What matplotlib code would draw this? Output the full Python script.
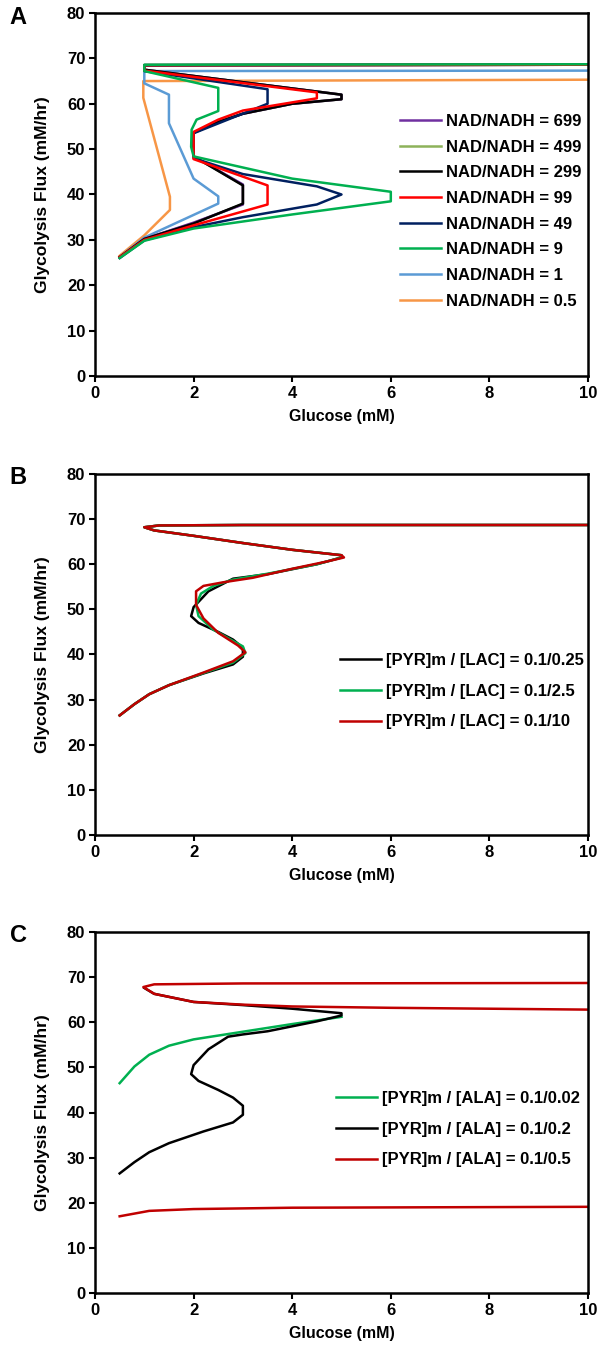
import matplotlib
matplotlib.use("Agg")
import matplotlib.pyplot as plt

plt.rcParams["font.family"] = ["Liberation Sans", "DejaVu Sans"]
plt.rcParams["font.weight"] = "bold"

# ---- Panel A: NAD/NADH ratios (glucose mM, flux mM/hr) ----
a_labels = ["NAD/NADH = 699", "NAD/NADH = 499", "NAD/NADH = 299", "NAD/NADH = 99",
            "NAD/NADH = 49", "NAD/NADH = 9", "NAD/NADH = 1", "NAD/NADH = 0.5"]
a_colors = ["#7030A0", "#8DB25A", "#000000", "#FF0000",
            "#002060", "#00B050", "#5B9BD5", "#F79646"]

a_699_x = [0.5, 1.0, 2.0, 3.0, 3.0, 2.0, 2.0, 2.5, 3.0, 4.0, 5.0, 5.0, 1.0, 1.0, 10.0]
a_699_y = [26.2, 30.2, 33.8, 37.8, 42.2, 48.4, 53.6, 56.0, 57.8, 60.0, 61.0, 62.0, 67.5, 68.5, 68.6]
a_499_x = [0.5, 1.0, 2.0, 3.0, 3.0, 2.0, 2.0, 2.5, 3.0, 4.0, 5.0, 5.0, 1.0, 1.0, 10.0]
a_499_y = [26.2, 30.2, 33.7, 37.9, 42.1, 48.4, 53.6, 56.0, 57.8, 60.0, 61.0, 62.0, 67.5, 68.5, 68.6]
a_299_x = [0.5, 1.0, 2.0, 3.0, 3.0, 2.0, 2.0, 2.5, 3.0, 4.0, 5.0, 5.0, 1.0, 1.0, 10.0]
a_299_y = [26.2, 30.2, 33.6, 38.0, 42.0, 48.4, 53.6, 56.0, 57.8, 60.0, 61.0, 62.0, 67.5, 68.5, 68.6]
a_99_x = [0.5, 1.0, 2.0, 3.5, 3.5, 2.0, 2.0, 2.5, 3.0, 4.5, 4.5, 1.0, 1.0, 10.0]
a_99_y = [26.2, 30.0, 33.2, 37.8, 42.0, 47.8, 53.8, 56.5, 58.5, 61.2, 62.5, 67.3, 68.5, 68.6]
a_49_x = [0.5, 1.0, 2.0, 3.0, 4.5, 5.0, 4.5, 3.0, 2.0, 2.0, 3.5, 3.5, 1.0, 1.0, 10.0]
a_49_y = [26.0, 29.9, 32.8, 35.0, 37.8, 40.0, 41.8, 44.5, 48.0, 53.5, 60.0, 63.2, 67.2, 68.5, 68.6]
a_9_x = [0.5, 1.0, 2.0, 4.0, 6.0, 6.0, 4.0, 2.0, 1.95, 1.96, 2.06, 2.5, 2.5, 1.0, 1.0, 10.0]
a_9_y = [26.0, 29.8, 32.5, 35.6, 38.5, 40.6, 43.5, 48.4, 50.5, 54.3, 56.5, 58.4, 63.5, 67.2, 68.6, 68.7]
a_1_x = [0.5, 1.0, 2.5, 2.5, 2.0, 1.5, 1.5, 1.0, 1.0, 10.0]
a_1_y = [26.2, 30.5, 38.0, 39.6, 43.5, 55.7, 62.0, 64.5, 67.2, 67.3]
a_05_x = [0.5, 1.0, 1.52, 1.52, 0.98, 0.98, 10.0]
a_05_y = [26.5, 31.0, 36.6, 39.5, 61.3, 65.0, 65.3]

# ---- Panel B: [PYR]m / [LAC] ----
b_labels = ["[PYR]m / [LAC] = 0.1/0.25", "[PYR]m / [LAC] = 0.1/2.5", "[PYR]m / [LAC] = 0.1/10"]
b_colors = ["#000000", "#00B050", "#C00000"]

b_025_x = [0.5, 0.8, 1.1, 1.5, 2.2, 2.8, 3.0, 3.0, 2.8, 2.5, 2.1, 1.95, 2.0, 2.3, 2.8,
           3.5, 4.5, 5.0, 5.0, 4.0, 3.0, 2.0, 1.2, 1.0, 1.3, 3.0, 10.0]
b_025_y = [26.5, 29.0, 31.2, 33.2, 35.8, 37.8, 39.5, 41.5, 43.3, 45.0, 47.0, 48.5, 50.5, 54.0, 56.8,
           57.8, 60.0, 61.5, 62.0, 63.2, 64.7, 66.3, 67.5, 68.2, 68.6, 68.7, 68.7]
b_25_x = [0.5, 0.8, 1.1, 1.5, 2.2, 2.8, 3.05, 3.0, 2.8, 2.4, 2.1, 2.05, 2.15, 2.4, 2.8,
          3.5, 4.5, 5.0, 5.0, 4.0, 3.0, 2.0, 1.2, 1.0, 1.3, 3.0, 10.0]
b_25_y = [26.5, 29.0, 31.2, 33.2, 35.9, 38.2, 40.3, 41.8, 43.0, 45.5, 48.5, 51.0, 53.5, 55.2, 56.6,
          57.9, 60.0, 61.5, 62.0, 63.2, 64.7, 66.3, 67.5, 68.2, 68.6, 68.7, 68.7]
b_10_x = [0.5, 0.8, 1.1, 1.5, 2.2, 2.8, 3.05, 2.9, 2.5, 2.2, 2.05, 2.05, 2.2, 2.6, 3.2,
          4.0, 4.7, 5.05, 5.0, 4.0, 3.0, 2.0, 1.2, 1.0, 1.3, 3.0, 10.0]
b_10_y = [26.5, 29.0, 31.2, 33.2, 36.0, 38.5, 40.5, 42.0, 44.8, 48.0, 51.0, 54.0, 55.2, 56.0, 57.0,
          59.0, 60.6, 61.5, 62.0, 63.2, 64.7, 66.3, 67.5, 68.2, 68.6, 68.7, 68.7]

# ---- Panel C: [PYR]m / [ALA] ----
c_labels = ["[PYR]m / [ALA] = 0.1/0.02", "[PYR]m / [ALA] = 0.1/0.2", "[PYR]m / [ALA] = 0.1/0.5"]
c_colors = ["#00B050", "#000000", "#C00000"]

c_002_x = [0.5, 0.8, 1.1, 1.5, 2.0, 3.0, 4.0, 5.0]
c_002_y = [46.5, 50.2, 52.8, 54.8, 56.2, 57.9, 59.6, 61.2]
c_02_x = [0.5, 0.8, 1.1, 1.5, 2.2, 2.8, 3.0, 3.0, 2.8, 2.5, 2.1, 1.95, 2.0, 2.3, 2.7,
          3.0, 3.5, 4.5, 5.0, 5.0, 4.5, 4.0, 3.0, 2.0, 1.2, 1.0]
c_02_y = [26.5, 29.0, 31.2, 33.2, 35.8, 37.8, 39.5, 41.5, 43.3, 45.0, 47.0, 48.5, 50.5, 54.0, 56.8,
          57.3, 58.0, 60.2, 61.5, 62.0, 62.5, 63.0, 63.8, 64.5, 66.3, 67.6]
# red curve: lower (low-flux) branch and upper hysteresis loop
c_05_low_x = [0.5, 0.8, 1.1, 2.0, 4.0, 10.0]
c_05_low_y = [17.0, 17.6, 18.2, 18.6, 18.9, 19.1]
c_05_high_x = [10.0, 6.0, 4.0, 3.0, 2.0, 1.2, 0.98, 1.2, 3.0, 10.0]
c_05_high_y = [62.8, 63.2, 63.5, 63.9, 64.5, 66.3, 67.8, 68.4, 68.6, 68.7]


def style_axes(ax, letter, letter_y):
    ax.set_xlim(0, 10)
    ax.set_ylim(0, 80)
    ax.set_xticks(range(0, 11, 2))
    ax.set_yticks(range(0, 81, 10))
    for s in ax.spines.values():
        s.set_linewidth(1.8)
    ax.tick_params(direction="out", length=4, width=1.5, labelsize=12, pad=3)
    for lab in ax.get_xticklabels() + ax.get_yticklabels():
        lab.set_fontweight("bold")
    ax.set_xlabel("Glucose (mM)", fontsize=11.5, fontweight="bold", labelpad=6)
    ax.set_ylabel("Glycolysis Flux (mM/hr)", fontsize=12.5, fontweight="bold", labelpad=12)
    fig.text(0.016, letter_y, letter, fontsize=17, fontweight="bold", va="top", ha="left")


fig = plt.figure(figsize=(6.1, 13.54), dpi=100)
W, H = 610, 1354
left, right = 95 / W, 588 / W

axA = fig.add_axes([left, 1 - 376 / H, right - left, (376 - 13) / H])
axB = fig.add_axes([left, 1 - 835 / H, right - left, (835 - 474) / H])
axC = fig.add_axes([left, 1 - 1293 / H, right - left, (1293 - 932) / H])

lw = 1.8
leg_kw = dict(loc="upper left", frameon=False, bbox_transform=fig.transFigure,
              prop={"weight": "bold", "size": 12}, handlelength=2.45,
              handletextpad=0.3, borderpad=0, borderaxespad=0)

a_data = [(a_699_x, a_699_y), (a_499_x, a_499_y), (a_299_x, a_299_y), (a_99_x, a_99_y),
          (a_49_x, a_49_y), (a_9_x, a_9_y), (a_1_x, a_1_y), (a_05_x, a_05_y)]
a_order = [7, 6, 1, 0, 2, 4, 3, 5]
handles = {}
for i in a_order:
    xs, ys = a_data[i]
    handles[i], = axA.plot(xs, ys, color=a_colors[i], lw=lw, label=a_labels[i])
axA.legend([handles[i] for i in range(8)], a_labels, labelspacing=0.64,
           bbox_to_anchor=(400 / W, 1 - 114 / H), **leg_kw)
style_axes(axA, "A", 1 - 6 / H)

b_data = [(b_025_x, b_025_y), (b_25_x, b_25_y), (b_10_x, b_10_y)]
for i, (xs, ys) in enumerate(b_data):
    axB.plot(xs, ys, color=b_colors[i], lw=lw, label=b_labels[i])
axB.legend(labelspacing=0.94, bbox_to_anchor=(340 / W, 1 - 653 / H), **leg_kw)
style_axes(axB, "B", 1 - 466 / H)

axC.plot(c_002_x, c_002_y, color=c_colors[0], lw=lw, label=c_labels[0])
axC.plot(c_02_x, c_02_y, color=c_colors[1], lw=lw, label=c_labels[1])
axC.plot(c_05_low_x, c_05_low_y, color=c_colors[2], lw=lw, label=c_labels[2])
axC.plot(c_05_high_x, c_05_high_y, color=c_colors[2], lw=lw)
axC.legend(labelspacing=0.94, bbox_to_anchor=(336 / W, 1 - 1091 / H), **leg_kw)
style_axes(axC, "C", 1 - 924 / H)

fig.savefig("out.png", dpi=100)
